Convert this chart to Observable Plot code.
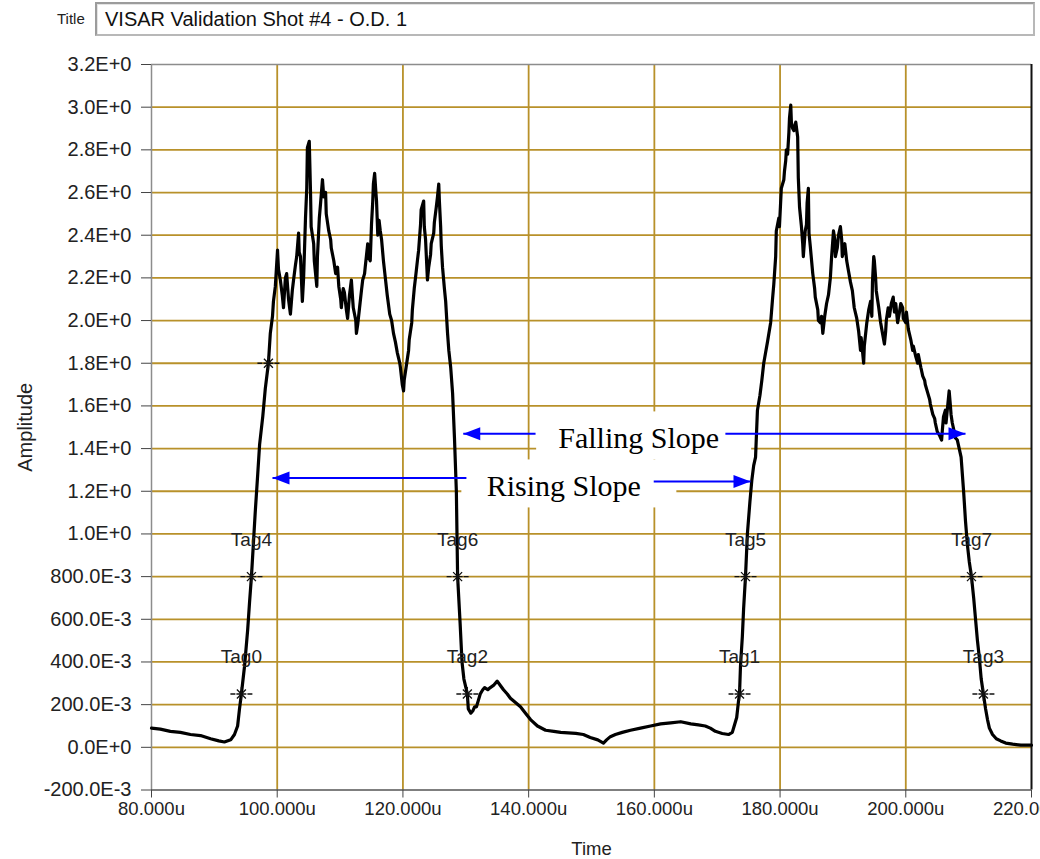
<!DOCTYPE html>
<html>
<head>
<meta charset="utf-8">
<script src="https://cdn.jsdelivr.net/npm/d3@7"></script>
<script src="https://cdn.jsdelivr.net/npm/@observablehq/plot@0.6"></script>
<style>
  html, body { margin: 0; padding: 0; background: #fff; overflow: hidden; }
  #titlebar { position: relative; width: 1040px; height: 40px; font-family: 'Liberation Sans', Arial, sans-serif; }
  #titlebar .caption { position: absolute; left: 57px; top: 10px; font-size: 15px; color: #222; }
  #titlebar .field {
    position: absolute; left: 95px; top: 2px; width: 928px; height: 30px;
    border-top: 2px solid #9c9c9c; border-left: 2px solid #9c9c9c;
    border-right: 2px solid #b8b8b8; border-bottom: 2px solid #b8b8b8;
    box-shadow: inset 1px 1px 0 #e4e4e4;
    padding-left: 8px; font-size: 20px; line-height: 31px; color: #111; white-space: nowrap;
  }
</style>
</head>
<body>
<div id="titlebar"><span class="caption">Title</span><div class="field" id="chart-title"></div></div>
<div id="chart"></div>
<script>
// Chart title
const chartTitle = "VISAR Validation Shot #4 - O.D. 1";

// Axis ticks and their engineering-notation labels
const xTicks = [80, 100, 120, 140, 160, 180, 200, 220];
const xTickLabels = ["80.000u", "100.000u", "120.000u", "140.000u", "160.000u", "180.000u", "200.000u", "220.000u"];
const yTicks = [-0.2, 0, 0.2, 0.4, 0.6, 0.8, 1.0, 1.2, 1.4, 1.6, 1.8, 2.0, 2.2, 2.4, 2.6, 2.8, 3.0, 3.2];
const yTickLabels = ["-200.0E-3", "0.0E+0", "200.0E-3", "400.0E-3", "600.0E-3", "800.0E-3", "1.0E+0", "1.2E+0",
  "1.4E+0", "1.6E+0", "1.8E+0", "2.0E+0", "2.2E+0", "2.4E+0", "2.6E+0", "2.8E+0", "3.0E+0", "3.2E+0"];

// Recorded waveform: [time (µs), amplitude]
const trace = [
  [80.0,0.09],[81.4,0.085],[83.0,0.075],[84.6,0.07],[86.2,0.06],[87.8,0.055],[89.4,0.04],[90.7,0.03],[91.6,0.025],
  [92.6,0.035],[93.2,0.06],[93.7,0.10],[94.0,0.18],[94.3,0.25],[94.8,0.38],[95.3,0.55],[95.6,0.68],[95.9,0.80],
  [96.2,0.95],[96.5,1.10],[96.9,1.28],[97.2,1.42],[97.7,1.55],[98.1,1.68],[98.6,1.80],[98.9,1.94],[99.25,2.02],
  [99.4,2.09],[99.7,2.16],[100.05,2.33],[100.2,2.24],[100.5,2.19],[100.8,2.12],[101.0,2.06],[101.3,2.20],[101.5,2.22],
  [101.8,2.10],[102.1,2.03],[102.4,2.14],[102.6,2.19],[102.9,2.26],[103.1,2.30],[103.4,2.41],[103.5,2.32],[103.7,2.30],
  [104.0,2.09],[104.2,2.20],[104.5,2.48],[104.7,2.62],[104.8,2.81],[105.1,2.84],[105.3,2.60],[105.4,2.44],[105.8,2.36],
  [105.9,2.28],[106.3,2.16],[106.4,2.30],[106.7,2.48],[106.9,2.55],[107.2,2.66],[107.4,2.58],[107.7,2.60],[107.8,2.50],
  [108.2,2.42],[108.5,2.38],[108.6,2.34],[109.0,2.28],[109.3,2.22],[109.6,2.25],[109.8,2.16],[110.1,2.10],[110.2,2.06],
  [110.5,2.15],[110.7,2.13],[111.0,2.05],[111.2,2.01],[111.5,2.12],[111.8,2.19],[112.0,2.10],[112.1,2.06],[112.5,2.00],
  [112.6,1.94],[112.8,1.98],[113.1,2.06],[113.4,2.14],[113.6,2.19],[113.9,2.22],[114.0,2.25],[114.4,2.36],[114.5,2.30],
  [114.8,2.28],[115.0,2.45],[115.2,2.56],[115.3,2.64],[115.5,2.69],[115.7,2.60],[115.8,2.56],[116.0,2.40],[116.2,2.47],
  [116.4,2.42],[116.6,2.38],[116.9,2.28],[117.2,2.20],[117.5,2.12],[117.9,2.03],[118.2,2.00],[118.5,1.94],[118.8,1.90],
  [119.1,1.85],[119.5,1.80],[119.6,1.78],[119.9,1.70],[120.1,1.67],[120.2,1.72],[120.5,1.78],[120.9,1.86],[121.0,1.91],
  [121.4,1.99],[121.5,2.05],[121.8,2.15],[122.0,2.20],[122.3,2.28],[122.5,2.33],[122.8,2.45],[122.9,2.52],[123.3,2.56],
  [123.4,2.44],[123.6,2.38],[123.9,2.19],[124.1,2.25],[124.4,2.31],[124.5,2.36],[124.9,2.41],[125.0,2.46],[125.3,2.53],
  [125.5,2.58],[125.7,2.64],[125.8,2.56],[126.0,2.44],[126.1,2.35],[126.3,2.25],[126.6,2.15],[126.8,2.09],[127.1,1.94],
  [127.3,1.86],[127.6,1.78],[127.9,1.66],[128.2,1.45],[128.5,1.20],[128.6,1.00],[128.7,0.80],[129.1,0.58],[129.4,0.40],
  [129.7,0.32],[130.25,0.25],[130.4,0.18],[130.8,0.16],[131.1,0.17],[131.4,0.19],[131.7,0.19],[132.0,0.22],[132.3,0.25],
  [132.7,0.27],[133.0,0.28],[133.5,0.27],[133.9,0.28],[134.4,0.29],[135.0,0.31],[135.5,0.29],[136.0,0.27],[136.6,0.25],
  [137.1,0.23],[137.9,0.21],[138.7,0.19],[139.5,0.16],[140.3,0.13],[141.4,0.10],[142.7,0.08],[144.0,0.075],[145.1,0.07],
  [146.3,0.068],[147.5,0.065],[148.7,0.06],[149.8,0.046],[151.0,0.035],[151.9,0.02],[152.4,0.035],[153.0,0.05],
  [153.8,0.06],[154.9,0.07],[156.2,0.08],[157.8,0.09],[159.4,0.10],[161.0,0.11],[162.6,0.115],[164.2,0.12],[165.8,0.11],
  [167.0,0.105],[168.1,0.10],[168.9,0.09],[169.7,0.075],[170.8,0.065],[171.8,0.06],[172.4,0.07],[172.7,0.10],[173.1,0.14],
  [173.4,0.22],[173.55,0.25],[173.7,0.38],[174.0,0.52],[174.2,0.65],[174.5,0.80],[174.8,1.00],[175.2,1.15],[175.5,1.25],
  [175.8,1.32],[176.1,1.36],[176.4,1.58],[176.8,1.65],[177.1,1.72],[177.4,1.80],[177.7,1.85],[178.0,1.90],[178.5,1.99],
  [178.8,2.10],[179.0,2.17],[179.3,2.30],[179.4,2.42],[179.8,2.48],[179.9,2.44],[180.2,2.62],[180.6,2.66],[180.7,2.70],
  [180.9,2.75],[181.0,2.80],[181.2,2.78],[181.4,2.88],[181.5,2.95],[181.7,3.01],[181.8,2.93],[182.0,2.90],[182.2,2.89],
  [182.5,2.93],[182.8,2.86],[182.9,2.67],[183.1,2.53],[183.3,2.47],[183.4,2.44],[183.6,2.36],[183.7,2.30],[183.9,2.38],
  [184.0,2.42],[184.2,2.45],[184.3,2.55],[184.5,2.62],[184.6,2.41],[184.8,2.35],[185.2,2.22],[185.5,2.15],[185.6,2.11],
  [186.0,2.05],[186.1,2.00],[186.4,1.99],[186.6,2.02],[186.8,1.94],[187.1,2.02],[187.4,2.08],[187.7,2.12],[188.0,2.20],
  [188.2,2.30],[188.3,2.34],[188.5,2.42],[188.7,2.38],[188.8,2.30],[189.1,2.34],[189.3,2.40],[189.6,2.44],[189.8,2.38],
  [189.9,2.30],[190.3,2.36],[190.6,2.28],[190.9,2.23],[191.2,2.18],[191.5,2.14],[191.8,2.06],[192.2,2.01],[192.5,1.95],
  [192.8,1.86],[192.9,1.92],[193.3,1.80],[193.4,1.88],[193.8,1.99],[194.1,2.05],[194.4,2.09],[194.6,2.02],[194.7,2.18],
  [194.9,2.30],[195.0,2.28],[195.2,2.20],[195.3,2.14],[195.7,2.06],[196.0,1.99],[196.3,1.94],[196.6,1.89],[196.8,1.95],
  [196.9,2.00],[197.2,2.06],[197.4,2.02],[197.7,2.08],[198.0,2.11],[198.2,2.04],[198.4,2.08],[198.7,1.99],[199.0,2.04],
  [199.2,2.08],[199.5,2.06],[199.6,2.01],[200.0,1.99],[200.1,2.04],[200.4,1.96],[200.8,1.91],[201.1,1.86],[201.2,1.88],
  [201.6,1.83],[201.9,1.80],[202.0,1.84],[202.4,1.78],[202.7,1.74],[203.0,1.72],[203.1,1.70],[203.5,1.66],[203.8,1.63],
  [203.9,1.61],[204.3,1.56],[204.6,1.54],[204.7,1.52],[205.0,1.48],[205.4,1.46],[205.7,1.44],[205.8,1.48],[206.0,1.55],
  [206.3,1.58],[206.4,1.52],[206.6,1.58],[206.9,1.67],[207.1,1.60],[207.2,1.56],[207.4,1.52],[207.7,1.48],[207.9,1.45],
  [208.2,1.44],[208.5,1.40],[208.8,1.36],[209.2,1.20],[209.5,1.06],[209.8,0.95],[210.1,0.87],[210.45,0.80],[210.8,0.70],
  [211.1,0.60],[211.4,0.50],[211.7,0.42],[212.0,0.32],[212.35,0.25],[212.7,0.18],[213.0,0.13],[213.3,0.09],[213.8,0.06],
  [214.4,0.04],[215.1,0.03],[215.9,0.02],[217.0,0.015],[218.3,0.01],[220.0,0.01]
];

// Threshold crossing tags (time in µs, level)
const tagNames = ["Tag0", "Tag1", "Tag2", "Tag3", "Tag4", "Tag5", "Tag6", "Tag7"];
const tagTimes = [94.3, 173.55, 130.25, 212.35, 95.9, 174.5, 128.7, 210.45];
const tagLevels = [0.25, 0.25, 0.25, 0.25, 0.8, 0.8, 0.8, 0.8];

// Unlabelled cursor on the first rising edge
const cursorTimes = [98.6];
const cursorLevels = [1.8];

// Slope annotations: text position and the arrows leading to the edges
const noteLabels = ["Falling Slope", "Rising Slope"];
const noteTimes = [157.5, 145.6];
const noteLevels = [1.45, 1.225];
const arrowFrom = [141.1, 171.3, 130.1, 159.9];
const arrowTo = [129.6, 209.5, 99.25, 175.3];
const arrowLevels = [1.47, 1.47, 1.262, 1.246];

document.getElementById("chart-title").textContent = chartTitle;

const points = trace.map(([t, a]) => ({t, a}));
const tags = tagNames.map((name, i) => ({name, t: tagTimes[i], a: tagLevels[i]}));
const cursors = tagTimes.map((t, i) => ({t, a: tagLevels[i]}))
  .concat(cursorTimes.map((t, i) => ({t, a: cursorLevels[i]})));
const notes = noteLabels.map((label, i) => ({label, t: noteTimes[i], a: noteLevels[i]}));
const arrows = arrowFrom.map((from, i) => ({from, to: arrowTo[i], a: arrowLevels[i]}));

// Cursor glyph: an asterisk with short horizontal arms
const cursorSymbol = {
  draw(ctx) {
    ctx.moveTo(-11, 0); ctx.lineTo(-6, 0);
    ctx.moveTo(6, 0); ctx.lineTo(11, 0);
    ctx.moveTo(-5, 0); ctx.lineTo(5, 0);
    ctx.moveTo(0, -7); ctx.lineTo(0, 7);
    ctx.moveTo(-4.5, -4.5); ctx.lineTo(4.5, 4.5);
    ctx.moveTo(-4.5, 4.5); ctx.lineTo(4.5, -4.5);
  }
};

// Solid arrowhead with its tip at the origin, pointing right
const headSymbol = {
  draw(ctx) {
    ctx.moveTo(0, 0);
    ctx.lineTo(-17, -6.5);
    ctx.lineTo(-17, 6.5);
    ctx.closePath();
  }
};

const gridColor = "#b8912a";
const sans = "'Liberation Sans', Arial, sans-serif";
const serif = "'Liberation Serif', 'Times New Roman', serif";

const chart = Plot.plot({
  width: 1040,
  height: 819,
  marginLeft: 151,
  marginRight: 9,
  marginTop: 24,
  marginBottom: 69.5,
  style: {fontFamily: sans, background: "white", color: "#222", overflow: "visible"},
  x: {domain: [80, 220]},
  y: {domain: [-0.2, 3.2]},
  marks: [
    Plot.gridX(xTicks.slice(1, -1), {stroke: gridColor, strokeOpacity: 1, strokeWidth: 1.8}),
    Plot.gridY(yTicks.slice(1, -1), {stroke: gridColor, strokeOpacity: 1, strokeWidth: 1.8}),
    Plot.rect(notes, {x1: "t", x2: "t", y1: "a", y2: "a", fill: "white",
      insetLeft: -102, insetRight: -113, insetTop: -26, insetBottom: -22}),
    Plot.ruleX([80], {stroke: "#8c8c8c", strokeWidth: 1.5}),
    Plot.ruleY([3.2], {stroke: "#8c8c8c", strokeWidth: 1.5}),
    Plot.ruleY([-0.2], {stroke: "#555", strokeWidth: 1.5}),
    Plot.ruleX([220], {stroke: "#111", strokeWidth: 2}),
    Plot.line(points, {x: "t", y: "a", stroke: "black", strokeWidth: 3.2, strokeLinejoin: "round"}),
    Plot.dot(cursors, {x: "t", y: "a", symbol: cursorSymbol, fill: "none", stroke: "#111", strokeWidth: 1.3}),
    Plot.text(tags, {x: "t", y: "a", text: "name", dy: -37, fontSize: 19, fill: "#222"}),
    Plot.text(notes, {x: "t", y: "a", text: "label", fontFamily: serif, fontSize: 30, fill: "black"}),
    Plot.link(arrows, {x1: "from", x2: "to", y1: "a", y2: "a", stroke: "#0000ff", strokeWidth: 2}),
    Plot.dot(arrows, {x: "to", y: "a", symbol: headSymbol, fill: "#0000ff", stroke: "none",
      rotate: d => (d.to < d.from ? 180 : 0)}),
    Plot.axisY({ticks: yTicks, tickFormat: d => yTickLabels[yTicks.indexOf(d)], tickSize: 10, tickPadding: 10,
      fontSize: 20, stroke: "#444", label: "Amplitude", labelAnchor: "center", labelOffset: 134, labelArrow: "none"}),
    Plot.axisX({ticks: xTicks, tickFormat: d => xTickLabels[xTicks.indexOf(d)], tickSize: 8, tickPadding: 4,
      fontSize: 18.5, stroke: "#444", label: "Time", labelAnchor: "center", labelOffset: 65, labelArrow: "none"})
  ]
});
document.getElementById("chart").appendChild(chart);
</script>
</body>
</html>
